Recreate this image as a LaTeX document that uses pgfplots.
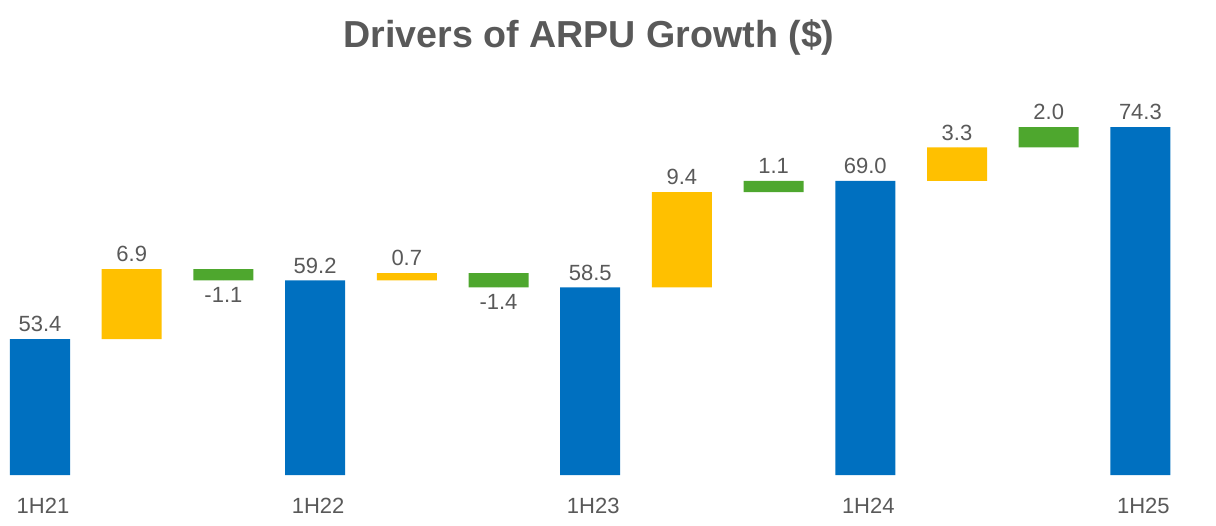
\documentclass[border=0pt]{standalone}
\usepackage{pgfplots}
\pgfplotsset{compat=1.18}
\usepackage{fontspec}
\setmainfont{Liberation Sans}
\definecolor{barblue}{HTML}{0070C0}
\definecolor{baryellow}{HTML}{FFC000}
\definecolor{bargreen}{HTML}{4EA72E}
\definecolor{txtgray}{HTML}{595959}

% shared geometry for the bar axis and the label overlay
\pgfplotsset{wfbase/.style={
    x=45.85pt, y=5.07pt,
    xmin=-0.4362, xmax=12.82, ymin=40, ymax=86.75,
    anchor=south west, at={(0pt,25pt)},
    enlargelimits=false, clip=false,
    axis line style={draw=none}, major tick length=0pt,
    ytick=\empty,
    /pgf/number format/assume math mode=true}}

\begin{document}
\begin{tikzpicture}
\useasboundingbox (0,0) rectangle (608pt,262.5pt);
\begin{axis}[wfbase, ybar stacked, bar width=30pt,
    xtick={0,3,6,9,12},
    xticklabels={1H21,1H22,1H23,1H24,1H25},
    xticklabel style={font=\fontsize{11}{13}\selectfont, text=txtgray, xshift=1.5pt},
    xticklabel shift=8pt]
% invisible base
\addplot[draw=none, fill=none] coordinates {(0,40) (1,53.4) (2,59.2) (3,40) (4,59.2) (5,58.5) (6,40) (7,58.5) (8,67.9) (9,40) (10,69.0) (11,72.3) (12,40)};
% totals
\addplot[draw=none, fill=barblue] coordinates {(0,13.4) (1,0) (2,0) (3,19.2) (4,0) (5,0) (6,18.5) (7,0) (8,0) (9,29.0) (10,0) (11,0) (12,34.3)};
% driver 1
\addplot[draw=none, fill=baryellow] coordinates {(0,0) (1,6.9) (2,0) (3,0) (4,0.7) (5,0) (6,0) (7,9.4) (8,0) (9,0) (10,3.3) (11,0) (12,0)};
% driver 2
\addplot[draw=none, fill=bargreen] coordinates {(0,0) (1,0) (2,1.1) (3,0) (4,0) (5,1.4) (6,0) (7,0) (8,1.1) (9,0) (10,0) (11,2.0) (12,0)};
\end{axis}
\begin{axis}[wfbase, hide axis]
\addplot[only marks, mark=*, mark size=0pt, mark options={draw=none, fill=none},
    point meta=explicit symbolic, nodes near coords=\pgfplotspointmeta,
    nodes near coords style={anchor=south, font=\fontsize{11}{13}\selectfont, text=txtgray}]
    coordinates {(0,53.4)[53.4] (1,60.3)[6.9] (3,59.2)[59.2] (4,59.9)[0.7] (6,58.5)[58.5] (7,67.9)[9.4] (8,69.0)[1.1] (9,69.0)[69.0] (10,72.3)[3.3] (11,74.3)[2.0] (12,74.3)[74.3]};
\addplot[only marks, mark=*, mark size=0pt, mark options={draw=none, fill=none},
    point meta=explicit symbolic, nodes near coords=\pgfplotspointmeta,
    nodes near coords style={anchor=north, font=\fontsize{11}{13}\selectfont, text=txtgray}]
    coordinates {(2,59.2)[-1.1] (5,58.5)[-1.4]};
\end{axis}
\node[anchor=base, font=\bfseries\fontsize{18.8}{22}\selectfont, text=txtgray] at (294.5pt,238.5pt) {Drivers of ARPU Growth (\$)};
\end{tikzpicture}
\end{document}
